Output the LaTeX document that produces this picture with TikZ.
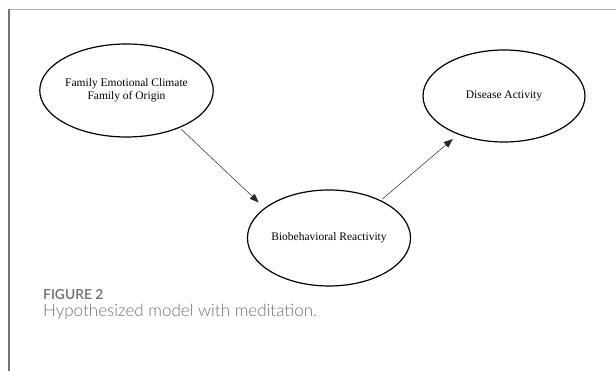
\documentclass[tikz,border=0pt]{standalone}
\usepackage{fontspec}
\usetikzlibrary{shapes.geometric,arrows.meta}
\newfontfamily\diagfont{Liberation Serif}
\newfontfamily\capfont{Lato Light}
\newfontfamily\capheadfont{Lato Semibold}
\definecolor{capgray}{RGB}{110,111,114}
\begin{document}
\begin{tikzpicture}[x=1pt,y=1pt,
  oval/.style={draw,ellipse,line width=1.2pt,inner sep=0pt,align=center,
    font=\diagfont\fontsize{11.5}{13.5}\selectfont},
  link/.style={line width=0.5pt,draw=black!85,-{Triangle[length=9pt,width=7pt]}}]
\path[use as bounding box] (0,0) rectangle (616,371);
\draw[line width=1.2pt,black!30] (9,361.5)--(616,361.5);
\draw[line width=1.2pt,black!55] (9,361.5)--(9,0);
\node[oval,minimum width=163pt,minimum height=93pt] (fam) at (126.5,280.5)
  {Family Emotional Climate\\Family of Origin};
\node[oval,minimum width=162pt,minimum height=92pt] (dis) at (504,275)
  {Disease Activity};
\node[oval,minimum width=152pt,minimum height=96pt] (bio) at (329,133)
  {Biobehavioral Reactivity};
\draw[link,shorten <=2pt,shorten >=8pt] (fam.-35)--(bio.155);
\draw[link,shorten <=2pt,shorten >=7pt] (bio.36)--(dis.220);
\node[anchor=base west,inner sep=0pt,text=capgray,font=\capheadfont\fontsize{13.8}{16}\selectfont]
  (fig) at (43,71) {FIGURE 2};
\node[anchor=base west,inner sep=0pt,text=capgray,font=\capfont\fontsize{17}{20}\selectfont]
  (cap) at (43,54.3) {Hypothesized model with meditation.};
\end{tikzpicture}
\end{document}
